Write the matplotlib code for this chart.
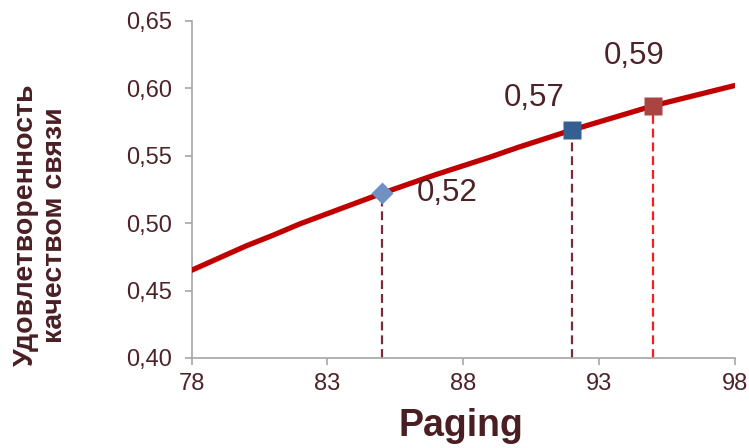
import matplotlib.pyplot as plt

plt.rcParams['font.family'] = ['Liberation Sans', 'DejaVu Sans']

# curve
paging = [78, 79, 80, 81, 82, 83, 84, 85, 86, 87, 88, 89, 90, 91, 92, 93, 94, 95, 96, 97, 98]
satisfaction = [0.465, 0.474, 0.483, 0.491, 0.4995, 0.507, 0.5145, 0.522, 0.529, 0.536, 0.5425,
                0.549, 0.556, 0.5625, 0.569, 0.575, 0.581, 0.587, 0.592, 0.597, 0.602]

# highlighted points
point_x = [85, 92, 95]
point_y = [0.522, 0.569, 0.587]
point_labels = ['0,52', '0,57', '0,59']

y_ticks = [0.40, 0.45, 0.50, 0.55, 0.60, 0.65]
x_ticks = [78, 83, 88, 93, 98]

text_color = '#4d2328'
axis_color = '#a6a6a6'

fig = plt.figure(figsize=(7.49, 4.48), dpi=100)
ax = fig.add_axes([0.2557, 0.2009, 0.7256, 0.7529])

ax.plot(paging, satisfaction, color='#c00000', lw=3.8, solid_capstyle='round',
        solid_joinstyle='round', zorder=3)

# dashed drop lines
drop_colors = ['#7b2c3a', '#7b2c3a', '#ff1a1a']
for px, py, c in zip(point_x, point_y, drop_colors):
    ax.plot([px, px], [0.40, py], color=c, lw=1.6, dashes=(4, 2.2), zorder=2)

# markers
ax.plot(point_x[0], point_y[0], marker='D', ms=11.5, color='#7091c4', mec='none', zorder=4, clip_on=False)
ax.plot(point_x[1], point_y[1], marker='s', ms=13.5, color='#365f91', mec='none', zorder=4, clip_on=False)
ax.plot(point_x[2], point_y[2], marker='s', ms=13.5, color='#a94442', mec='none', zorder=4, clip_on=False)

offsets = [(47, 0), (-27, 23), (-14, 36)]
for px, py, lab, off in zip(point_x, point_y, point_labels, offsets):
    ax.annotate(lab, (px, py), xytext=off, textcoords='offset points',
                ha='center', va='center', fontsize=22.5, color=text_color)

ax.set_xlim(78, 98)
ax.set_ylim(0.40, 0.65)
ax.set_xticks(x_ticks)
ax.set_yticks(y_ticks)
ax.set_yticklabels([f'{v:.2f}'.replace('.', ',') for v in y_ticks])
ax.set_xticklabels([str(v) for v in x_ticks])

for side in ['top', 'right']:
    ax.spines[side].set_visible(False)
for side in ['left', 'bottom']:
    ax.spines[side].set_color(axis_color)
    ax.spines[side].set_linewidth(1.2)

ax.tick_params(axis='both', colors=axis_color, width=1.2, length=5, labelsize=17, labelcolor=text_color)
ax.tick_params(axis='y', pad=9)
ax.tick_params(axis='x', pad=6)

fig.text(461 / 749, 0.048, 'Paging', ha='center', va='center', fontsize=27,
         fontweight='bold', color='#4a1f24')
fig.text(0.0547, 0.4978, 'Удовлетворенность\nкачеством связи', ha='center', va='center',
         rotation=90, fontsize=20.5, fontweight='bold', color='#4a1f24', multialignment='center',
         linespacing=1.15)

fig.savefig('out.png', dpi=100)
